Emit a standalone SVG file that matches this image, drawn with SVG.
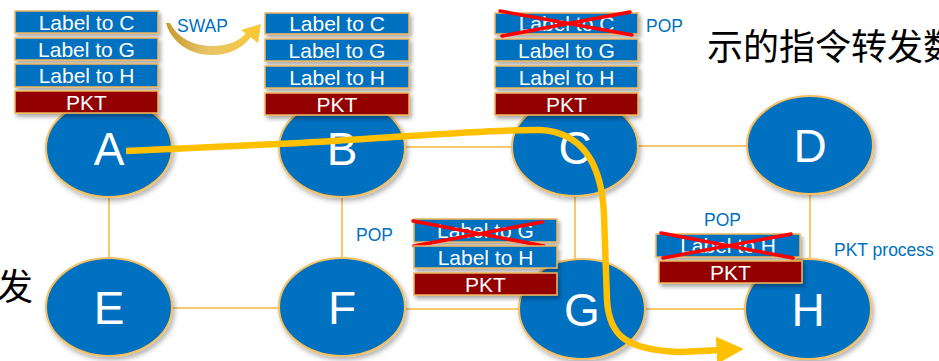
<svg xmlns="http://www.w3.org/2000/svg" width="939" height="361" viewBox="0 0 939 361">
<defs>
<style>
.edge{stroke:#F8C96E;stroke-width:2;fill:none}
.node{fill:#0070C0;stroke:#F5C062;stroke-width:2;filter:url(#sh)}
.nt{font-family:"Liberation Sans",Arial,sans-serif;font-size:46px;fill:#fff;text-anchor:middle}
.lbl{fill:#0070C0;stroke:#F2B65A;stroke-width:1.5;filter:url(#sh2)}
.pkt{fill:#930000;stroke:#F2B65A;stroke-width:1.5;filter:url(#sh2)}
.bt{font-family:"Liberation Sans",Arial,sans-serif;font-size:21px;fill:#fff;text-anchor:middle}
.op{font-family:"Liberation Sans",Arial,sans-serif;font-size:17.5px;fill:#0070C0}
.x{stroke:#FF0000;stroke-width:3.5;stroke-linecap:round}
.cn{font-family:"Noto Sans CJK SC","Noto Sans CJK JP",sans-serif;font-size:36px;fill:#000}
</style>
<filter id="sh" x="-20%" y="-20%" width="150%" height="150%"><feDropShadow dx="2" dy="3" stdDeviation="2.5" flood-color="#000" flood-opacity="0.3"/></filter>
<filter id="sh2" x="-10%" y="-30%" width="130%" height="190%"><feDropShadow dx="2" dy="3" stdDeviation="2" flood-color="#000" flood-opacity="0.35"/></filter>
<linearGradient id="sw" x1="0" y1="0" x2="1" y2="0">
<stop offset="0" stop-color="#C89A2E"/>
<stop offset="0.5" stop-color="#E8C46A"/>
<stop offset="1" stop-color="#F7C93A"/>
</linearGradient>
<marker id="ah" viewBox="0 0 10 10" refX="2" refY="5" markerWidth="4.2" markerHeight="4.2" markerUnits="strokeWidth" orient="auto">
<path d="M0,0 L10,5 L0,10 z" fill="#FFC000"/>
</marker>
</defs>
<rect width="939" height="361" fill="#fff"/>

<text class="cn" x="707" y="60">示的指令转发数</text>
<text class="cn" x="-3" y="300">发</text>

<g id="connectors">
<line class="edge" x1="109" y1="196" x2="109" y2="259"/>
<line class="edge" x1="342" y1="196" x2="342" y2="259"/>
<line class="edge" x1="171" y1="308" x2="280" y2="308"/>
<line class="edge" x1="404" y1="309" x2="520" y2="309"/>
<line class="edge" x1="644" y1="309" x2="746" y2="309"/>
<line class="edge" x1="404" y1="147" x2="513" y2="147"/>
<line class="edge" x1="637" y1="146" x2="748" y2="146"/>
<line class="edge" x1="575" y1="195" x2="575" y2="261"/>
<line class="edge" x1="810" y1="193" x2="810" y2="261"/>
</g>

<g id="node-A"><ellipse class="node" cx="109" cy="148" rx="63" ry="49"/><text class="nt" x="109" y="165">A</text></g>
<g id="node-B"><ellipse class="node" cx="342" cy="148" rx="63" ry="49"/><text class="nt" x="342" y="165">B</text></g>
<g id="node-C"><ellipse class="node" cx="575" cy="147" rx="63" ry="49"/><text class="nt" x="575" y="164">C</text></g>
<g id="node-D"><ellipse class="node" cx="810" cy="145" rx="63" ry="49"/><text class="nt" x="810" y="162">D</text></g>
<g id="node-E"><ellipse class="node" cx="109" cy="307" rx="63" ry="49"/><text class="nt" x="109" y="324">E</text></g>
<g id="node-F"><ellipse class="node" cx="342" cy="307" rx="63" ry="49"/><text class="nt" x="342" y="324">F</text></g>
<g id="node-G"><ellipse class="node" cx="582" cy="309" rx="63" ry="50"/><text class="nt" x="582" y="326">G</text></g>
<g id="node-H"><ellipse class="node" cx="808" cy="309" rx="63" ry="50"/><text class="nt" x="808" y="326">H</text></g>

<g id="stack-A">
<rect class="lbl" x="15" y="11" width="143" height="22"/><text class="bt" x="86.5" y="29.5">Label to C</text>
<rect class="lbl" x="15" y="38" width="143" height="22"/><text class="bt" x="86.5" y="56.5">Label to G</text>
<rect class="lbl" x="15" y="64" width="143" height="23"/><text class="bt" x="86.5" y="83">Label to H</text>
<rect class="pkt" x="15" y="91" width="143" height="22"/><text class="bt" x="86.5" y="109.5">PKT</text>
</g>

<g id="swap">
<path d="M166,23 C171,42 190,55 212,55 C233,55 246,45 252,35 L247,32 C240,41 228,46 212,46 C193,46 177,37 170,23 Z" fill="url(#sw)"/>
<path d="M261,24 L241,30 L258,43 Z" fill="#F7C93A"/>
<text class="op" x="177" y="32">SWAP</text>
</g>

<g id="stack-B">
<rect class="lbl" x="265" y="13" width="144" height="21"/><text class="bt" x="337" y="31">Label to C</text>
<rect class="lbl" x="265" y="39" width="144" height="22"/><text class="bt" x="337" y="57.5">Label to G</text>
<rect class="lbl" x="265" y="66" width="144" height="22"/><text class="bt" x="337" y="84.5">Label to H</text>
<rect class="pkt" x="265" y="93" width="144" height="22"/><text class="bt" x="337" y="111.5">PKT</text>
</g>

<g id="stack-C">
<rect class="lbl" x="495" y="13" width="143" height="21"/><text class="bt" x="566.5" y="31">Label to C</text>
<line class="x" x1="500" y1="11" x2="632" y2="35"/>
<line class="x" x1="502" y1="36" x2="630" y2="12"/>
<rect class="lbl" x="495" y="39" width="143" height="22"/><text class="bt" x="566.5" y="57.5">Label to G</text>
<rect class="lbl" x="495" y="66" width="143" height="22"/><text class="bt" x="566.5" y="84.5">Label to H</text>
<rect class="pkt" x="495" y="93" width="143" height="22"/><text class="bt" x="566.5" y="111.5">PKT</text>
<text class="op" x="646" y="32">POP</text>
</g>

<g id="stack-G">
<text class="op" x="356" y="241">POP</text>
<rect class="lbl" x="414" y="219" width="143" height="23"/><text class="bt" x="485.5" y="238">Label to G</text>
<line class="x" x1="413" y1="221" x2="544" y2="246"/>
<line class="x" x1="414" y1="246" x2="542" y2="222"/>
<rect class="lbl" x="414" y="246" width="143" height="22"/><text class="bt" x="485.5" y="264.5">Label to H</text>
<rect class="pkt" x="414" y="273" width="143" height="22"/><text class="bt" x="485.5" y="291.5">PKT</text>
</g>

<g id="stack-H">
<text class="op" x="704" y="226">POP</text>
<rect class="lbl" x="656" y="234" width="144" height="23"/><text class="bt" x="728" y="253">Label to H</text>
<line class="x" x1="661" y1="233" x2="793" y2="258"/>
<line class="x" x1="663" y1="258" x2="791" y2="234"/>
<rect class="pkt" x="659" y="261" width="143" height="22"/><text class="bt" x="730.5" y="279.5">PKT</text>
<text class="op" x="834" y="256">PKT process</text>
</g>

<g id="flow-path">
<path d="M126,151 L300,143 C420,136 495,129 540,130 C585,132 602,168 604,215 L607,300 C609,335 625,350 680,352 L722,350" fill="none" stroke="#FFC000" stroke-width="6.5" marker-end="url(#ah)"/>
</g>
</svg>
